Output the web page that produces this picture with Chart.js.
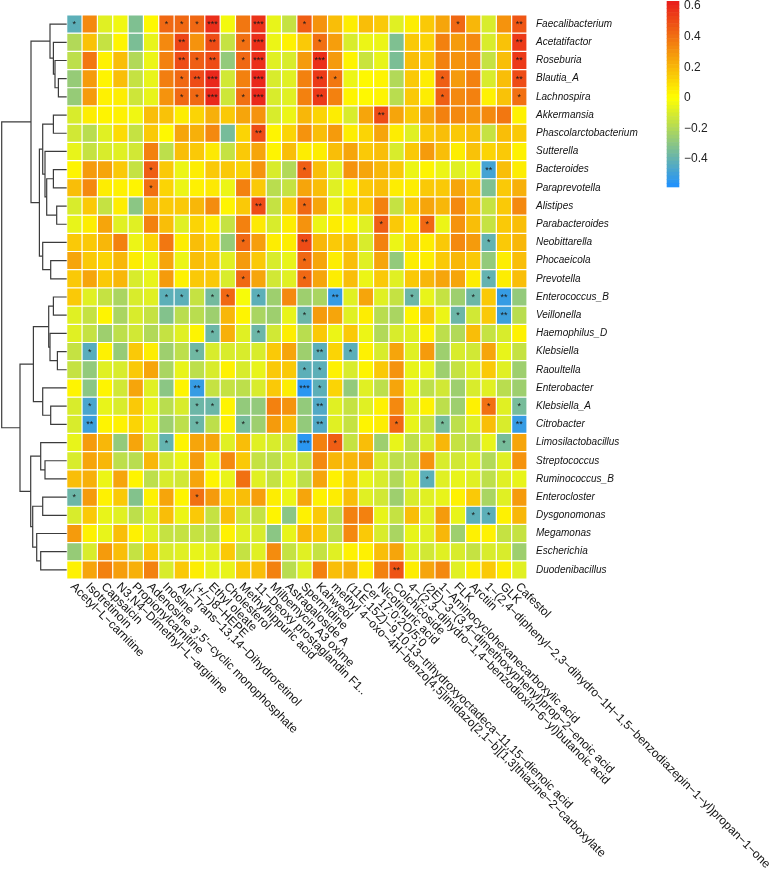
<!DOCTYPE html>
<html>
<head>
<meta charset="utf-8">
<script src="https://cdn.jsdelivr.net/npm/chart.js@4.4.1/dist/chart.umd.min.js"></script>
<style>html,body{margin:0;padding:0;background:#fff;}canvas{display:block;}</style>
</head>
<body>
<canvas id="c" width="778" height="881"></canvas>
<script>
const rowNames = ["Faecalibacterium","Acetatifactor","Roseburia","Blautia_A","Lachnospira","Akkermansia","Phascolarctobacterium","Sutterella","Bacteroides","Paraprevotella","Alistipes","Parabacteroides","Neobittarella","Phocaeicola","Prevotella","Enterococcus_B","Veillonella","Haemophilus_D","Klebsiella","Raoultella","Enterobacter","Klebsiella_A","Citrobacter","Limosilactobacillus","Streptococcus","Ruminococcus_B","Enterocloster","Dysgonomonas","Megamonas","Escherichia","Duodenibacillus"];

const colNames = ["Acetyl\u2212L\u2212carnitine","Isotretinoin","Capsaicin","N3,N4\u2212Dimethyl\u2212L\u2212arginine","Propionylcarnitine","Adenosine 3',5'\u2212cyclic monophosphate","Inosine","All\u2212Trans\u221213,14\u2212Dihydroretinol","(+/\u2212)8\u2212HEPE","Ethyl oleate","Cholesterol","Methylhippuric acid","11\u2212Deoxy prostaglandin F1..","Milbemycin A3 oxime","Astragaloside A","Spermidine","Kahweol","methyl 4\u2212oxo\u22124H\u2212benzo[4,5]imidazo[2,1\u2212b][1,3]thiazine\u22122\u2212carboxylate","(11E,15Z)\u22129,10,13\u2212trihydroxyoctadeca\u221211,15\u2212dienoic acid","Cer 17:0;2O/5:0","Nicotinuric acid","Colchicoside","4\u2212(2,3\u2212dihydro\u22121,4\u2212benzodioxin\u22126\u2212yl)butanoic acid","(2E)\u22123\u2212(3,4\u2212dimethoxyphenyl)prop\u22122\u2212enoic acid","1\u2212Aminocyclohexanecarboxylic acid","FLK","Arctiin","1\u2212(2,4\u2212diphenyl\u22122,3\u2212dihydro\u22121H\u22121,5\u2212benzodiazepin\u22121\u2212yl)propan\u22121\u2212one","GLK","Cafestol"];

// correlation values, one row per genus (rows in rowNames order, columns in colNames order)
const corr = [
[-0.42,0.33,-0.08,-0.04,-0.33,0.02,0.42,0.42,0.42,0.58,-0.03,0.38,0.57,-0.06,-0.15,0.45,0.30,0.18,0.05,0.18,0.15,-0.08,0.05,0.15,0.25,0.42,0.20,-0.10,0.30,0.47],
[-0.20,0.17,-0.15,0.03,-0.34,-0.06,0.33,0.52,0.30,0.50,-0.15,0.40,0.58,-0.05,0.04,0.15,0.40,0.27,-0.10,-0.05,-0.05,-0.33,0.15,0.12,0.35,0.28,0.33,-0.10,0.17,0.55],
[-0.17,0.38,0.04,0.18,-0.20,-0.05,0.35,0.50,0.45,0.50,-0.28,0.42,0.58,-0.08,-0.10,0.28,0.58,0.28,0.03,-0.14,-0.06,-0.34,0.18,0.15,0.35,0.30,0.33,-0.15,0.18,0.55],
[-0.27,0.28,0.03,0.18,-0.15,-0.06,0.36,0.42,0.50,0.60,-0.12,0.35,0.60,-0.10,-0.08,0.35,0.55,0.38,-0.05,0.02,0.03,-0.20,0.15,0.05,0.45,0.28,0.35,-0.10,0.18,0.50],
[-0.27,0.28,0.04,0.05,-0.13,-0.06,0.30,0.42,0.42,0.60,-0.13,0.40,0.60,-0.10,-0.08,0.35,0.55,0.35,0.03,0.02,0.03,-0.18,0.15,0.05,0.45,0.33,0.35,0.04,0.17,0.40],
[-0.10,0.05,0.03,0.04,-0.04,0.18,0.17,0.05,0.12,0.22,0.15,0.25,0.30,-0.10,-0.05,0.20,0.12,0.05,-0.10,0.25,0.50,0.25,0.15,0.25,0.35,0.33,0.30,0.33,0.38,0.04],
[-0.12,-0.18,-0.08,0.10,-0.15,0.15,0.02,0.25,0.22,0.33,-0.35,0.12,0.50,0.03,0.12,0.30,0.18,0.28,0.05,0.12,0.25,0.05,-0.08,0.15,0.18,0.15,0.18,-0.15,0.18,0.15],
[-0.06,-0.15,-0.10,-0.08,-0.12,0.35,-0.17,0.18,0.15,0.06,-0.15,0.15,0.25,0.03,0.18,0.05,0.05,0.18,0.25,0.15,0.18,-0.10,0.15,0.28,0.18,0.05,0.17,0.12,0.15,0.04],
[0.03,0.28,0.25,0.15,-0.15,0.45,0.15,-0.05,0.05,0.15,0.15,0.12,0.30,-0.10,-0.20,0.45,0.18,-0.08,0.30,0.25,0.20,0.15,-0.05,0.03,-0.05,-0.08,-0.05,-0.48,0.18,0.05],
[0.18,0.33,0.05,0.04,0.03,0.40,0.12,-0.05,0.04,0.06,-0.05,0.35,0.15,-0.18,-0.15,0.25,0.18,-0.08,0.05,0.15,0.18,0.05,0.05,0.15,0.15,0.25,0.18,-0.33,0.15,0.22],
[-0.10,0.15,-0.15,0.05,-0.30,0.20,0.15,0.15,0.20,0.32,0.03,0.15,0.50,-0.15,0.15,0.42,0.25,-0.05,0.15,0.15,0.35,-0.15,0.15,0.25,0.20,0.33,0.18,-0.15,0.15,0.33],
[-0.06,0.05,0.25,-0.08,-0.08,0.35,0.18,-0.08,0.12,0.05,-0.15,0.35,0.06,-0.10,0.05,0.30,-0.05,0.05,0.03,-0.08,0.45,0.15,0.05,0.42,-0.05,0.30,0.18,-0.15,0.15,0.18],
[0.15,0.15,0.20,0.35,-0.05,0.12,0.38,0.05,0.18,0.12,-0.27,0.42,0.27,0.05,0.05,0.50,0.20,0.15,0.18,-0.10,0.35,-0.05,0.12,0.05,0.15,0.33,0.28,-0.40,0.15,0.20],
[0.25,0.15,0.12,0.20,0.05,-0.05,0.25,-0.05,0.18,0.15,-0.08,0.28,0.15,-0.10,-0.06,0.42,0.25,0.05,0.18,-0.08,0.25,-0.28,0.05,0.05,0.15,0.20,0.15,-0.28,0.05,0.18],
[0.15,0.25,0.15,0.20,-0.10,-0.06,0.28,0.04,0.15,0.15,-0.10,0.42,0.25,-0.12,-0.08,0.42,0.25,0.05,0.18,-0.05,0.15,-0.08,0.15,0.20,0.25,0.25,0.05,-0.40,0.05,0.18],
[0.15,-0.08,-0.15,-0.22,-0.10,-0.08,-0.42,-0.42,-0.15,-0.36,0.42,-0.02,-0.42,-0.25,0.33,-0.25,-0.22,-0.52,-0.08,0.25,-0.08,-0.15,-0.38,-0.06,-0.15,-0.25,-0.38,0.15,-0.52,-0.28],
[-0.08,-0.15,0.03,-0.22,-0.10,-0.15,-0.32,-0.18,-0.18,-0.25,0.20,0.03,-0.22,-0.25,-0.06,-0.38,0.28,0.25,-0.08,0.05,-0.18,-0.22,0.03,0.15,-0.05,-0.38,-0.12,0.15,-0.50,-0.18],
[-0.08,-0.15,-0.25,-0.17,-0.12,-0.20,-0.15,-0.08,0.03,-0.38,0.22,-0.08,-0.38,-0.12,0.05,-0.18,0.15,-0.05,0.15,-0.05,-0.20,-0.10,-0.08,0.04,-0.17,-0.20,0.18,-0.15,-0.10,0.04],
[-0.15,-0.43,0.04,-0.27,0.15,0.05,-0.25,-0.17,-0.37,-0.10,-0.10,-0.10,-0.10,0.15,0.25,-0.25,-0.42,0.12,-0.42,0.04,-0.10,0.25,-0.08,0.28,-0.25,-0.10,-0.12,0.25,-0.06,-0.15],
[-0.15,-0.28,-0.08,-0.10,0.15,0.25,-0.22,-0.06,-0.17,-0.10,0.04,-0.10,-0.06,0.15,0.15,-0.42,-0.42,0.04,-0.10,0.03,0.15,0.30,-0.06,-0.06,-0.25,-0.15,-0.08,0.15,-0.08,-0.25],
[0.03,-0.30,0.03,-0.12,0.25,-0.08,-0.30,0.03,-0.52,-0.15,-0.15,-0.17,-0.10,0.15,0.05,-0.55,-0.42,0.12,-0.28,-0.08,-0.17,0.25,-0.06,-0.17,-0.12,-0.25,-0.10,-0.08,-0.18,-0.25],
[-0.10,-0.47,-0.06,-0.10,0.15,-0.06,-0.18,-0.10,-0.38,-0.38,0.03,-0.28,-0.28,0.35,0.30,-0.28,-0.45,-0.08,-0.15,-0.08,0.04,0.33,-0.08,0.04,-0.17,-0.25,0.04,0.40,-0.08,-0.35],
[-0.10,-0.50,0.03,0.04,0.12,-0.06,-0.25,-0.17,-0.38,-0.17,0.04,-0.35,-0.25,0.28,0.18,-0.28,-0.45,-0.08,-0.15,0.03,0.05,0.42,-0.06,-0.15,-0.35,-0.17,-0.08,0.18,-0.10,-0.52],
[-0.06,0.28,0.20,-0.28,0.25,-0.12,-0.40,0.03,0.25,0.25,-0.08,0.18,-0.08,-0.10,-0.12,-0.55,0.35,0.45,-0.15,0.18,-0.25,-0.06,-0.17,-0.10,0.20,-0.15,-0.17,-0.06,-0.35,0.25],
[-0.10,0.25,0.20,-0.17,-0.18,0.20,-0.12,-0.05,0.28,-0.06,0.33,0.15,-0.15,-0.17,-0.10,-0.15,0.33,0.20,0.20,0.25,-0.10,-0.17,-0.15,0.30,-0.10,-0.12,-0.08,-0.20,-0.08,0.30],
[0.18,0.22,-0.05,0.25,0.03,-0.17,-0.10,-0.12,0.25,0.03,-0.06,0.40,-0.08,-0.15,-0.06,-0.17,0.25,0.04,0.15,-0.06,-0.10,-0.20,-0.08,-0.42,-0.08,-0.06,-0.08,-0.17,-0.08,-0.06],
[-0.38,0.28,0.04,0.15,-0.32,0.04,0.25,0.03,0.40,0.28,0.12,0.18,0.27,0.05,-0.05,0.25,0.04,0.05,0.18,-0.08,-0.12,-0.25,-0.10,-0.08,-0.06,0.04,0.15,-0.22,-0.08,0.28],
[-0.10,0.15,-0.06,-0.08,-0.17,-0.08,0.18,-0.05,0.15,-0.15,0.18,-0.12,-0.15,0.03,-0.30,0.04,0.15,-0.17,0.35,0.35,-0.06,-0.15,0.18,-0.08,0.28,-0.06,-0.42,-0.42,0.04,0.20],
[0.28,0.04,-0.06,0.18,0.04,-0.08,-0.15,-0.15,-0.15,-0.17,0.04,-0.08,-0.10,-0.30,-0.06,0.20,0.15,-0.17,0.33,0.15,-0.10,-0.22,-0.06,-0.08,0.20,-0.25,0.04,0.04,-0.15,-0.15],
[-0.27,-0.10,0.28,0.18,-0.15,0.15,-0.10,-0.08,-0.06,-0.08,0.15,-0.15,-0.08,0.32,-0.15,-0.08,-0.15,-0.08,0.04,0.04,0.18,0.25,-0.08,-0.12,-0.08,-0.10,-0.15,-0.10,-0.10,-0.25],
[0.04,0.25,0.35,0.27,0.22,0.35,-0.10,0.15,0.05,-0.06,-0.06,0.15,0.18,0.35,-0.18,-0.08,0.35,0.18,0.22,0.05,0.35,0.48,0.05,0.25,0.33,-0.08,0.05,0.15,0.05,-0.08]
];

// significance marks: [row (1-based), column (1-based), label]
const sigMarks = [
[1,1,"*"],[1,7,"*"],[1,8,"*"],[1,9,"*"],[1,10,"***"],[1,13,"***"],[1,16,"*"],[1,26,"*"],[1,30,"**"],
[2,8,"**"],[2,10,"**"],[2,12,"*"],[2,13,"***"],[2,17,"*"],[2,30,"**"],
[3,8,"**"],[3,9,"*"],[3,10,"**"],[3,12,"*"],[3,13,"***"],[3,17,"***"],[3,30,"**"],
[4,8,"*"],[4,9,"**"],[4,10,"***"],[4,13,"***"],[4,17,"**"],[4,18,"*"],[4,25,"*"],[4,30,"**"],
[5,8,"*"],[5,9,"*"],[5,10,"***"],[5,12,"*"],[5,13,"***"],[5,17,"**"],[5,25,"*"],[5,30,"*"],
[6,21,"**"],[7,13,"**"],
[9,6,"*"],[9,16,"*"],[9,28,"**"],[10,6,"*"],
[11,13,"**"],[11,16,"*"],[12,21,"*"],[12,24,"*"],
[13,12,"*"],[13,16,"**"],[13,28,"*"],[14,16,"*"],
[15,12,"*"],[15,16,"*"],[15,28,"*"],
[16,7,"*"],[16,8,"*"],[16,10,"*"],[16,11,"*"],[16,13,"*"],[16,18,"**"],[16,23,"*"],[16,27,"*"],[16,29,"**"],
[17,16,"*"],[17,26,"*"],[17,29,"**"],
[18,10,"*"],[18,13,"*"],
[19,2,"*"],[19,9,"*"],[19,17,"**"],[19,19,"*"],
[20,16,"*"],[20,17,"*"],
[21,9,"**"],[21,16,"***"],[21,17,"*"],
[22,2,"*"],[22,9,"*"],[22,10,"*"],[22,17,"**"],[22,28,"*"],[22,30,"*"],
[23,2,"**"],[23,9,"*"],[23,12,"*"],[23,17,"**"],[23,22,"*"],[23,25,"*"],[23,30,"**"],
[24,7,"*"],[24,16,"***"],[24,18,"*"],[24,29,"*"],
[26,24,"*"],[27,1,"*"],[27,9,"*"],[28,27,"*"],[28,28,"*"],[31,22,"**"]
];

// row dendrogram as merges: negative = leaf (1-based row), positive = earlier merge (1-based); third = height
const dendroMerges = [
[-4,-5,8.3],[-3,1,11.7],[-2,2,13.3],[-1,3,16.7],
[-6,-7,13.3],[-9,-10,13.3],[-11,-12,10],[6,7,20],[-8,8,21.7],[5,9,24],
[-14,-15,16],[-13,11,24],[10,12,27.3],[4,13,35.7],
[-16,-17,13.3],[-19,-20,9.3],[-18,16,16.7],[15,17,18],
[-22,-23,16],[-21,19,24],[18,20,33.3],
[-25,-26,21.7],[-24,22,26],[-27,-28,24],[-30,-31,26],[-29,25,30],[24,26,34],[23,27,36],
[21,28,46.7],[14,29,65]
];

const legendTicks = [0.6, 0.4, 0.2, 0, -0.2, -0.4];
const V_MIN = -0.581, V_MAX = 0.633;

function heatColor(v){
  const mid=[255,255,0], hi=[233,28,28], lo=[30,144,255];
  let t, b;
  if (v >= 0){ t = Math.min(v / V_MAX, 1); b = hi; } else { t = Math.min(v / V_MIN, 1); b = lo; }
  const c = mid.map((m,k)=>Math.round(m + (b[k]-m)*t));
  return `rgb(${c[0]},${c[1]},${c[2]})`;
}

const LEFT = 66.7, RIGHT_W = 251, TOP_PAD = 1, BOTTOM_PAD = 302;
const PLOT_W = 778 - RIGHT_W - LEFT;
const FONT = '"Liberation Sans", Arial, sans-serif';
Chart.defaults.font.family = FONT;

const barSets = colNames.map((name, j) => ({
  type: 'bar', label: name, indexAxis: 'y', xAxisID: 'x', yAxisID: 'y',
  data: rowNames.map((r, i) => ({y: i, x: [j - 0.5, j + 0.5]})),
  backgroundColor: rowNames.map((r, i) => heatColor(corr[i][j])),
  borderColor: '#ffffff', borderWidth: 0.6, borderSkipped: false, inflateAmount: 0,
  categoryPercentage: 1, barPercentage: 1, grouped: false, order: 2
}));

function dendroSets(){
  const nodes = [], sets = [];
  const info = n => n < 0 ? {y: -n - 1, h: 0} : nodes[n - 1];
  dendroMerges.forEach(([a, b, h]) => {
    const A = info(a), B = info(b);
    sets.push({
      type: 'line', indexAxis: 'x', xAxisID: 'xd', yAxisID: 'y',
      data: [{x: A.h, y: A.y}, {x: h, y: A.y}, {x: h, y: B.y}, {x: B.h, y: B.y}],
      borderColor: '#3c3c3c', borderWidth: 1.2, pointRadius: 0, fill: false,
      tension: 0, clip: false, order: 1
    });
    nodes.push({y: (A.y + B.y) / 2, h});
  });
  return sets;
}

const overlay = {
  id: 'overlay',
  afterDatasetsDraw(chart){
    const {ctx, scales: {x, y}} = chart;
    ctx.save();
    ctx.font = '9px ' + FONT;
    ctx.fillStyle = '#1a1a1a';
    ctx.textAlign = 'center';
    ctx.textBaseline = 'middle';
    sigMarks.forEach(([r, c, s]) => ctx.fillText(s, x.getPixelForValue(c - 1), y.getPixelForValue(r - 1) + 0.5));
    ctx.restore();
  },
  afterDraw(chart){
    const {ctx, scales: {x}, chartArea} = chart;
    // column labels
    ctx.save();
    ctx.font = '12px ' + FONT;
    ctx.fillStyle = '#111';
    ctx.textAlign = 'left';
    ctx.textBaseline = 'middle';
    colNames.forEach((n, j) => {
      ctx.save();
      ctx.translate(x.getPixelForValue(j) - 2, chartArea.bottom + 6);
      ctx.rotate(Math.PI / 4);
      ctx.fillText(n, 0, 0);
      ctx.restore();
    });
    ctx.restore();
    // colour legend
    const lx = 666.7, lw = 12.6, ly0 = 1, ly1 = 186.7, steps = 50;
    ctx.save();
    for (let k = 0; k < steps; k++){
      const v = V_MAX - (V_MAX - V_MIN) * (k + 0.5) / steps;
      ctx.fillStyle = heatColor(v);
      const yy = ly0 + (ly1 - ly0) * k / steps;
      ctx.fillRect(lx, yy, lw, (ly1 - ly0) / steps + 0.6);
    }
    ctx.font = '12px ' + FONT;
    ctx.fillStyle = '#222';
    ctx.textAlign = 'left';
    ctx.textBaseline = 'middle';
    legendTicks.forEach(t => {
      const yy = ly0 + (V_MAX - t) / (V_MAX - V_MIN) * (ly1 - ly0);
      const lab = t === 0 ? '0' : t.toFixed(1).replace('-', '\u2212');
      ctx.fillText(lab, 684, yy);
    });
    ctx.restore();
  }
};

new Chart(document.getElementById('c'), {
  type: 'bar',
  data: { datasets: [...barSets, ...dendroSets()] },
  options: {
    responsive: false, animation: false, devicePixelRatio: 1, events: [],
    layout: { padding: { left: LEFT, right: 0, top: TOP_PAD, bottom: BOTTOM_PAD } },
    plugins: { legend: { display: false }, tooltip: { enabled: false } },
    scales: {
      x: { type: 'linear', axis: 'x', min: -0.5, max: colNames.length - 0.5, display: false, offset: false },
      xd: { type: 'linear', axis: 'x', min: -PLOT_W, max: 0, reverse: true, display: false, offset: false },
      y: {
        type: 'linear', axis: 'y', position: 'right', min: -0.5, max: rowNames.length - 0.5, reverse: true, offset: false,
        grid: { display: false, drawTicks: false }, border: { display: false },
        afterBuildTicks: s => { s.ticks = rowNames.map((n, i) => ({value: i})); },
        afterFit: s => { s.width = RIGHT_W; },
        ticks: { autoSkip: false, padding: 9, color: '#111', font: { size: 10, style: 'italic', family: FONT },
                 callback: (v, i) => rowNames[i] }
      }
    }
  },
  plugins: [overlay]
});
</script>
</body>
</html>
